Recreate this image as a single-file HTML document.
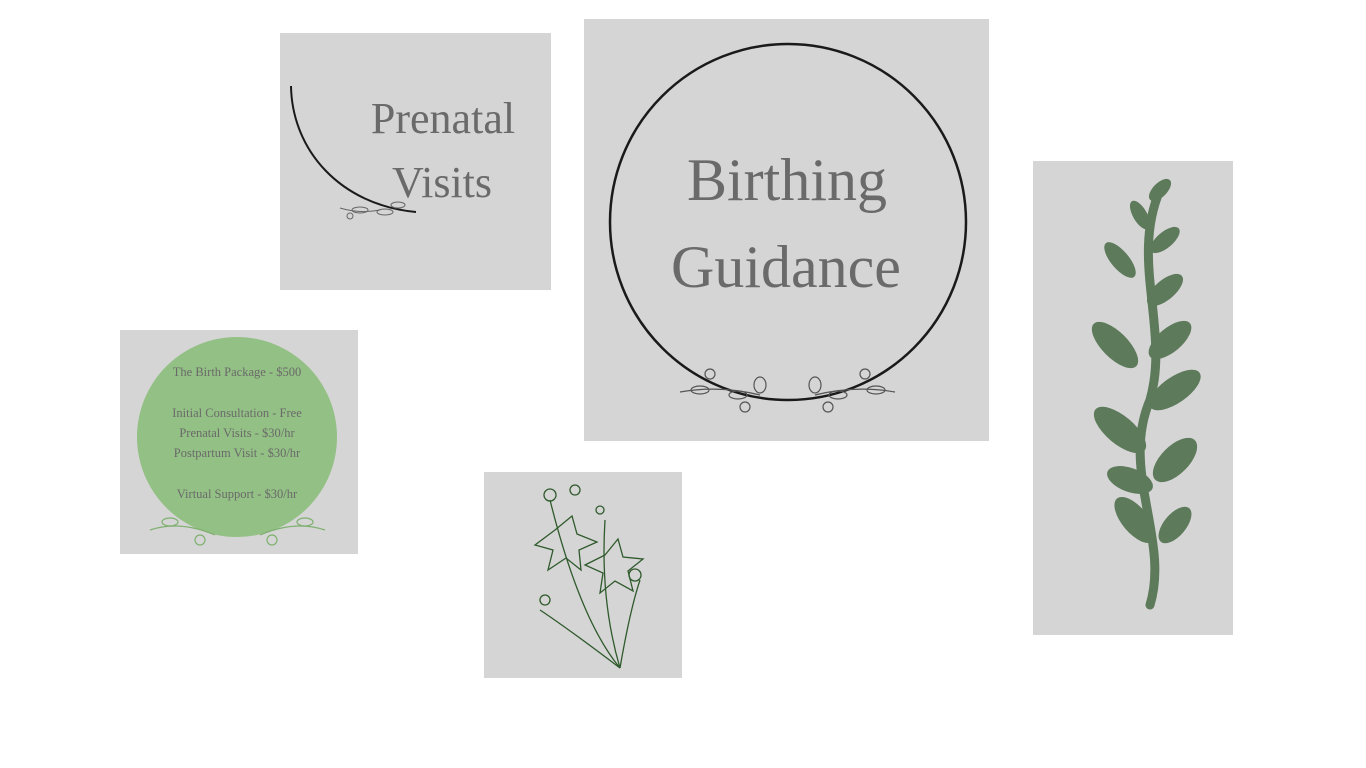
<!DOCTYPE html>
<html><head><meta charset="utf-8"><style>
html,body{margin:0;padding:0;background:#fff;width:1366px;height:768px;overflow:hidden}
svg{display:block}
.t{font-family:"Liberation Serif",serif;fill:#6a6a6a}
</style></head><body>
<svg width="1366" height="768" viewBox="0 0 1366 768">
<g>
<rect x="280" y="33" width="271" height="257" fill="#d5d5d5"/>
<path d="M291 86 C292 150 340 205 416 212" fill="none" stroke="#1a1a1a" stroke-width="2"/>
<g fill="none" stroke="#666" stroke-width="1">
<ellipse cx="360" cy="210" rx="8" ry="3"/><ellipse cx="385" cy="212" rx="8" ry="3"/><ellipse cx="398" cy="205" rx="7" ry="3"/>
<path d="M340 208 Q360 214 380 210"/><circle cx="350" cy="216" r="3"/></g>
<text class="t" x="443" y="133" font-size="44" text-anchor="middle">Prenatal</text>
<text class="t" x="442" y="197" font-size="44" text-anchor="middle">Visits</text>
</g>
<g>
<rect x="584" y="19" width="405" height="422" fill="#d5d5d5"/>
<circle cx="788" cy="222" r="178" fill="none" stroke="#1a1a1a" stroke-width="2.5"/>
<g fill="none" stroke="#555" stroke-width="1.2">
<path d="M680 392 Q720 385 760 395"/><path d="M815 395 Q855 385 895 392"/>
<ellipse cx="700" cy="390" rx="9" ry="4"/><ellipse cx="738" cy="395" rx="9" ry="4"/><ellipse cx="760" cy="385" rx="6" ry="8"/>
<ellipse cx="838" cy="395" rx="9" ry="4"/><ellipse cx="876" cy="390" rx="9" ry="4"/><ellipse cx="815" cy="385" rx="6" ry="8"/>
<circle cx="745" cy="407" r="5"/><circle cx="828" cy="407" r="5"/><circle cx="710" cy="374" r="5"/><circle cx="865" cy="374" r="5"/></g>
<text class="t" x="787" y="200" font-size="60" text-anchor="middle">Birthing</text>
<text class="t" x="786" y="287" font-size="60" text-anchor="middle">Guidance</text>
</g>
<g>
<rect x="1033" y="161" width="200" height="474" fill="#d5d5d5"/>
<path d="M1150 605 C1170 540 1120 470 1150 400 C1170 330 1130 260 1160 190" fill="none" stroke="#5d7a5b" stroke-width="9" stroke-linecap="round"/>
<g fill="#5d7a5b">
<ellipse cx="1160" cy="190" rx="14" ry="7" transform="rotate(-45 1160 190)"/>
<ellipse cx="1140" cy="215" rx="16" ry="7" transform="rotate(60 1140 215)"/>
<ellipse cx="1165" cy="240" rx="18" ry="8" transform="rotate(-40 1165 240)"/>
<ellipse cx="1120" cy="260" rx="22" ry="9" transform="rotate(50 1120 260)"/>
<ellipse cx="1165" cy="290" rx="22" ry="10" transform="rotate(-40 1165 290)"/>
<ellipse cx="1115" cy="345" rx="30" ry="13" transform="rotate(45 1115 345)"/>
<ellipse cx="1170" cy="340" rx="26" ry="12" transform="rotate(-40 1170 340)"/>
<ellipse cx="1175" cy="390" rx="30" ry="13" transform="rotate(-35 1175 390)"/>
<ellipse cx="1120" cy="430" rx="32" ry="14" transform="rotate(40 1120 430)"/>
<ellipse cx="1175" cy="460" rx="28" ry="14" transform="rotate(-45 1175 460)"/>
<ellipse cx="1130" cy="480" rx="24" ry="12" transform="rotate(20 1130 480)"/>
<ellipse cx="1135" cy="520" rx="28" ry="13" transform="rotate(50 1135 520)"/>
<ellipse cx="1175" cy="525" rx="22" ry="11" transform="rotate(-50 1175 525)"/>
</g></g>
<g>
<rect x="120" y="330" width="238" height="224" fill="#d5d5d5"/>
<circle cx="237" cy="437" r="100" fill="#93c084"/>
<g fill="none" stroke="#7fb070" stroke-width="1.2">
<path d="M150 530 Q180 520 215 535"/><path d="M260 535 Q295 520 325 530"/>
<ellipse cx="170" cy="522" rx="8" ry="4"/><ellipse cx="305" cy="522" rx="8" ry="4"/><circle cx="200" cy="540" r="5"/><circle cx="272" cy="540" r="5"/></g>
<g class="t" font-size="12.5" text-anchor="middle" fill="#6a6a6a">
<text x="237" y="376">The Birth Package - $500</text>
<text x="237" y="417">Initial Consultation - Free</text>
<text x="237" y="437">Prenatal Visits - $30/hr</text>
<text x="237" y="457">Postpartum Visit - $30/hr</text>
<text x="237" y="498">Virtual Support - $30/hr</text></g>
</g>
<g>
<rect x="484" y="472" width="198" height="206" fill="#d5d5d5"/>
<g fill="none" stroke="#2f5a2c" stroke-width="1.3">
<path d="M620 668 Q580 620 550 500"/><path d="M620 668 Q600 600 605 520"/><path d="M620 668 Q570 630 540 610"/><path d="M620 668 Q630 610 640 580"/>
<path d="M555 530 l-20 15 l18 5 l-5 20 l18 -12 l15 12 l-2 -20 l18 -8 l-20 -8 l-5 -18 z"/>
<path d="M605 555 l-20 10 l18 8 l-3 20 l15 -12 l18 10 l-5 -20 l15 -12 l-20 -2 l-5 -18 z"/>
<circle cx="550" cy="495" r="6"/><circle cx="575" cy="490" r="5"/><circle cx="600" cy="510" r="4"/><circle cx="635" cy="575" r="6"/><circle cx="545" cy="600" r="5"/></g>
</g>
</svg>
</body></html>
